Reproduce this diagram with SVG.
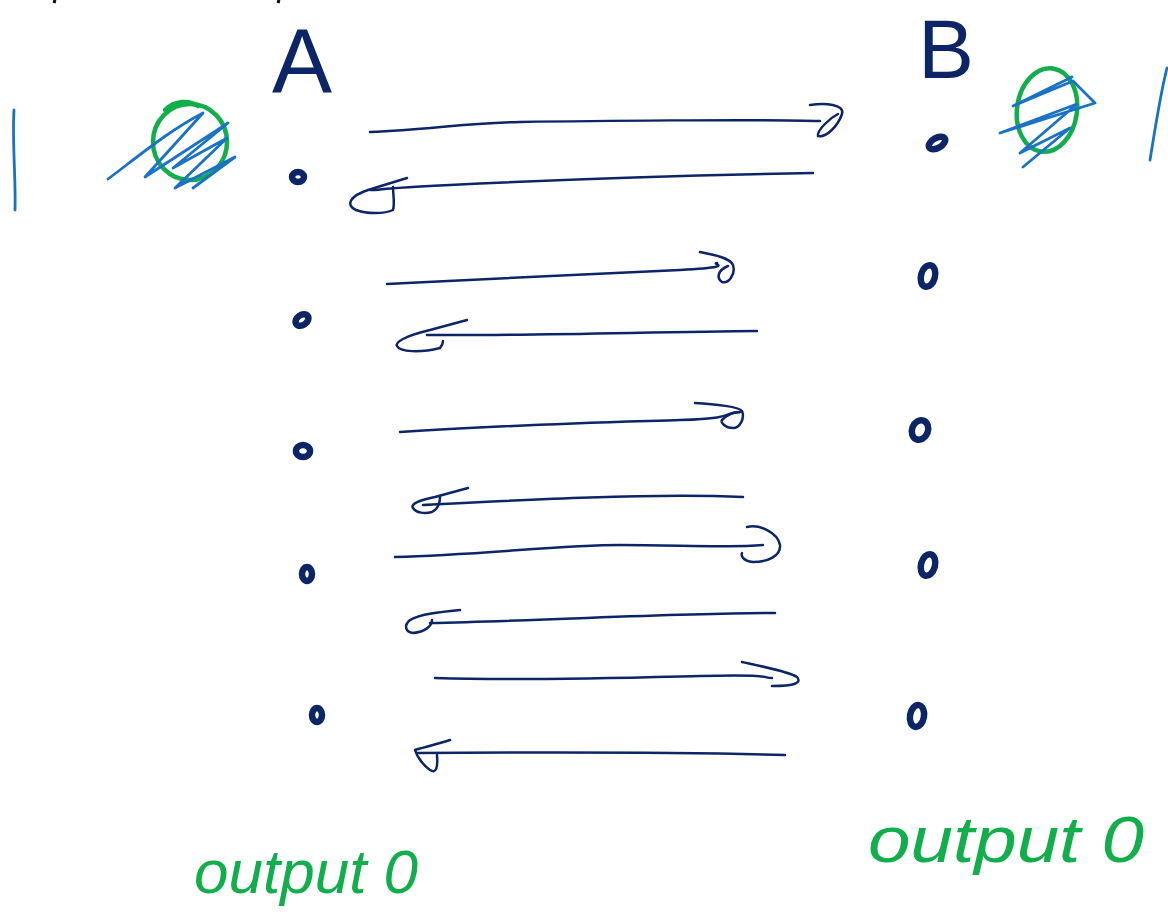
<svg xmlns="http://www.w3.org/2000/svg" width="1168" height="924" viewBox="0 0 1168 924">
<style>
.ink{fill:none;stroke:#0b2566;stroke-width:2.5;stroke-linecap:round;stroke-linejoin:round}
.dot{fill:none;stroke:#0b2566;stroke-width:6.5;stroke-linecap:round}
.blue{fill:none;stroke:#1a72c6;stroke-width:2.8;stroke-linecap:round;stroke-linejoin:round}
.green{fill:none;stroke:#12ae4b;stroke-width:4.5;stroke-linecap:round}
.lbl{font-family:"Liberation Sans",Arial,sans-serif;fill:#0b2566}
.out{font-family:"Liberation Sans",Arial,sans-serif;fill:#12ae4b}
</style>
<rect width="1168" height="924" fill="#ffffff"/>
<g id="topmarks">
<path d="M55,0 L54,3" stroke="#000" stroke-width="3" fill="none"/>
<path d="M279,0 L278,3" stroke="#000" stroke-width="3" fill="none"/>
</g>
<g id="labelA"><text class="lbl" x="272" y="92" font-size="90">A</text></g>
<g id="labelB"><text class="lbl" x="918" y="78" font-size="84">B</text></g>
<g id="scribbleLeft">
<path class="blue" d="M14,110 C12,140 16,180 15,210"/>
<ellipse class="green" cx="190" cy="142" rx="37" ry="38"/>
<path class="green" d="M165,110 C175,100 190,100 198,106" stroke-width="2"/>
<path class="blue" d="M108,179 C140,155 170,130 203,113 L145,177 L228,123 L173,168 L227,138 L175,188 L235,157 L193,188"/>
</g>
<g id="scribbleRight">
<ellipse class="green" cx="1047" cy="110" rx="30" ry="42" transform="rotate(8 1047 110)"/>
<path class="blue" d="M1072,77 L1013,106 L1073,81 L1095,103 L1000,133 L1077,104 L1020,153 L1070,128 L1023,167"/>
<path class="blue" d="M1167,68 C1160,95 1155,130 1150,160"/>
</g>
<g id="A-nodes">
<ellipse class="dot" cx="298" cy="177" rx="6" ry="5"/>
<ellipse class="dot" cx="302" cy="320" rx="7" ry="5" transform="rotate(-35 302 320)"/>
<ellipse class="dot" cx="303" cy="451" rx="7" ry="6"/>
<ellipse class="dot" cx="307" cy="574" rx="5" ry="7"/>
<ellipse class="dot" cx="317" cy="715" rx="5" ry="7"/>
</g>
<g id="B-nodes">
<ellipse class="dot" cx="937" cy="143" rx="9" ry="5" transform="rotate(-30 937 143)"/>
<ellipse class="dot" cx="928" cy="276" rx="7" ry="11" transform="rotate(15 928 276)"/>
<ellipse class="dot" cx="920" cy="430" rx="8" ry="10" transform="rotate(20 920 430)"/>
<ellipse class="dot" cx="928" cy="565" rx="7" ry="11" transform="rotate(15 928 565)"/>
<ellipse class="dot" cx="917" cy="716" rx="7" ry="11" transform="rotate(10 917 716)"/>
</g>
<g id="connectors">
<path class="ink" d="M370,132 C430,130 460,123 520,122 S760,119 820,121"/>
<path class="ink" d="M810,105 C825,103 845,104 842,114 C838,126 826,138 818,136 C817,130 830,118 838,114"/>
<path class="ink" d="M813,173 C700,175 550,180 450,185 S390,190 370,190"/>
<path class="ink" d="M407,178 L368,190 C350,196 345,205 356,210 C366,214 385,214 393,210 C395,203 393,195 393,187"/>
<path class="ink" d="M387,284 C500,278 620,273 680,270 S710,264 717,263"/>
<path class="ink" d="M700,252 C715,255 730,258 733,265 C736,275 728,284 722,282 C716,278 718,270 728,266"/>
<path class="ink" d="M757,331 C650,332 520,336 427,335"/>
<path class="ink" d="M467,320 L430,330 C405,336 395,342 397,346 C400,352 420,353 440,348 C443,344 443,341 443,341"/>
<path class="ink" d="M400,432 C500,425 620,422 680,420 S720,413 740,412"/>
<path class="ink" d="M695,403 C715,404 740,407 742,411 C745,418 740,428 733,428 C725,428 720,422 722,420 C728,414 735,412 740,412"/>
<path class="ink" d="M743,497 C650,493 520,500 423,505"/>
<path class="ink" d="M468,488 L435,497 C420,500 410,504 413,508 C416,513 425,514 432,512 C440,508 440,500 440,497"/>
<path class="ink" d="M395,557 C480,555 560,545 620,545 S730,548 763,545"/>
<path class="ink" d="M747,527 C760,524 778,533 780,545 C781,556 768,562 753,562 C742,561 741,555 742,553"/>
<path class="ink" d="M775,613 C680,613 560,620 430,623"/>
<path class="ink" d="M460,610 C440,612 420,614 410,620 C403,626 406,632 413,633 C425,632 432,626 432,620"/>
<path class="ink" d="M435,678 C520,681 620,678 700,676 S760,678 772,678"/>
<path class="ink" d="M742,662 C765,667 790,672 797,677 C802,683 795,686 772,686"/>
<path class="ink" d="M785,755 C680,752 560,752 417,753"/>
<path class="ink" d="M450,740 C435,745 420,748 415,750 C417,757 424,766 430,770 C436,774 438,768 437,755"/>
</g>
<g id="outputLeft"><text class="out" x="194" y="893" font-size="62" font-style="italic">output 0</text></g>
<g id="outputRight"><text class="out" x="868" y="862" font-size="64" font-style="italic" textLength="276" lengthAdjust="spacingAndGlyphs">output 0</text></g>
</svg>
